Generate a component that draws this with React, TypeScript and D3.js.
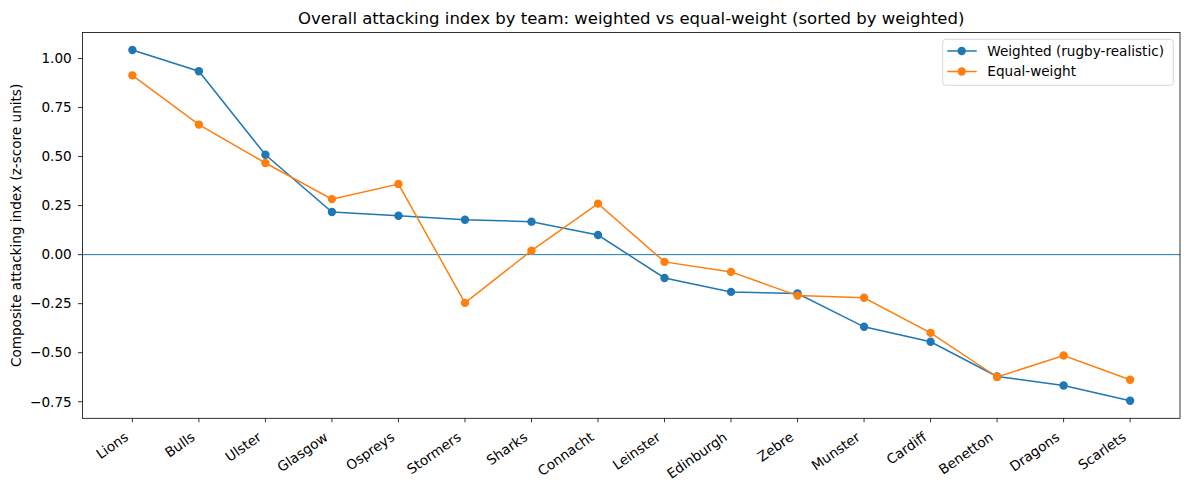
import { useEffect, useRef } from 'react';
import * as d3 from 'd3';

const teams = ['Lions', 'Bulls', 'Ulster', 'Glasgow', 'Ospreys', 'Stormers', 'Sharks', 'Connacht',
  'Leinster', 'Edinburgh', 'Zebre', 'Munster', 'Cardiff', 'Benetton', 'Dragons', 'Scarlets'];
const weighted = [1.043, 0.935, 0.509, 0.217, 0.198, 0.178, 0.168, 0.100,
  -0.119, -0.190, -0.198, -0.368, -0.444, -0.621, -0.667, -0.745];
const equalWeight = [0.914, 0.663, 0.467, 0.283, 0.360, -0.246, 0.020, 0.260,
  -0.037, -0.088, -0.209, -0.220, -0.399, -0.624, -0.514, -0.638];
const yTicks = [-0.75, -0.5, -0.25, 0, 0.25, 0.5, 0.75, 1.0];

const W = 1189;
const H = 490;
const FONT = 'DejaVu Sans, sans-serif';

export default function App() {
  const ref = useRef<SVGSVGElement>(null);

  useEffect(() => {
    const svg = d3.select(ref.current);
    svg.selectAll('*').remove();

    const left = 82.5, right = 1180, top = 32.5, bottom = 418.3;

    const x = d3.scaleLinear().domain([-0.75, teams.length - 1 + 0.75]).range([left, right]);
    const all = [...weighted, ...equalWeight];
    const lo = d3.min(all)!, hi = d3.max(all)!;
    const pad = (hi - lo) * 0.05;
    const y = d3.scaleLinear().domain([lo - pad, hi + pad]).range([bottom, top]);

    svg.append('rect').attr('width', W).attr('height', H).attr('fill', 'white');

    // zero line
    svg.append('line')
      .attr('x1', left).attr('x2', right)
      .attr('y1', y(0)).attr('y2', y(0))
      .attr('stroke', '#1f77b4').attr('stroke-width', 1);

    const series = [
      { name: 'Weighted (rugby-realistic)', values: weighted, color: '#1f77b4' },
      { name: 'Equal-weight', values: equalWeight, color: '#ff7f0e' },
    ];

    const line = d3.line<number>().x((_, i) => x(i)).y(d => y(d));

    series.forEach(s => {
      svg.append('path')
        .attr('d', line(s.values))
        .attr('fill', 'none')
        .attr('stroke', s.color)
        .attr('stroke-width', 1.5);
      svg.append('g').selectAll('circle')
        .data(s.values)
        .join('circle')
        .attr('cx', (_, i) => x(i))
        .attr('cy', d => y(d))
        .attr('r', 4.2)
        .attr('fill', s.color);
    });

    // frame
    svg.append('rect')
      .attr('x', left).attr('y', top)
      .attr('width', right - left).attr('height', bottom - top)
      .attr('fill', 'none').attr('stroke', 'black').attr('stroke-width', 0.8);

    // y axis
    const yg = svg.append('g').attr('font-family', FONT).attr('font-size', 13.6);
    yTicks.forEach(t => {
      yg.append('line').attr('x1', left - 4.5).attr('x2', left)
        .attr('y1', y(t)).attr('y2', y(t)).attr('stroke', 'black').attr('stroke-width', 0.8);
      yg.append('text').attr('x', 71.7).attr('y', y(t)).attr('dy', '0.35em')
        .attr('text-anchor', 'end').attr('fill', 'black')
        .text(d3.format('.2f')(t).replace('-', '\u2212'));
    });

    // x axis
    const xg = svg.append('g').attr('font-family', FONT).attr('font-size', 13.6);
    teams.forEach((t, i) => {
      xg.append('line').attr('x1', x(i)).attr('x2', x(i))
        .attr('y1', bottom).attr('y2', bottom + 4).attr('stroke', 'black').attr('stroke-width', 0.8);
      xg.append('text')
        .attr('transform', `translate(${x(i) - 3},${bottom + 21}) rotate(-35)`)
        .attr('text-anchor', 'end').attr('fill', 'black')
        .text(t);
    });

    // y label
    svg.append('text')
      .attr('transform', `translate(21,${(top + bottom) / 2}) rotate(-90)`)
      .attr('text-anchor', 'middle').attr('font-family', FONT).attr('font-size', 13.6)
      .text('Composite attacking index (z-score units)');

    // title
    svg.append('text')
      .attr('x', (left + right) / 2).attr('y', top - 9)
      .attr('text-anchor', 'middle').attr('font-family', FONT).attr('font-size', 16.5)
      .text('Overall attacking index by team: weighted vs equal-weight (sorted by weighted)');

    // legend
    const lg = svg.append('g').attr('font-family', FONT).attr('font-size', 13.6);
    lg.append('rect')
      .attr('x', 942.7).attr('y', 39.3).attr('width', 230.6).attr('height', 46)
      .attr('rx', 3).attr('fill', 'white').attr('fill-opacity', 0.8)
      .attr('stroke', '#cccccc').attr('stroke-width', 0.8);
    series.forEach((s, i) => {
      const ly = 51 + i * 20.5;
      lg.append('line').attr('x1', 947.3).attr('x2', 976.7).attr('y1', ly).attr('y2', ly)
        .attr('stroke', s.color).attr('stroke-width', 1.5);
      lg.append('circle').attr('cx', 961.7).attr('cy', ly).attr('r', 4.2).attr('fill', s.color);
      lg.append('text').attr('x', 987.3).attr('y', ly).attr('dy', '0.35em').attr('fill', 'black').text(s.name);
    });
  }, []);

  return <svg ref={ref} width={W} height={H} style={{ display: 'block', margin: -8 }} />;
}
